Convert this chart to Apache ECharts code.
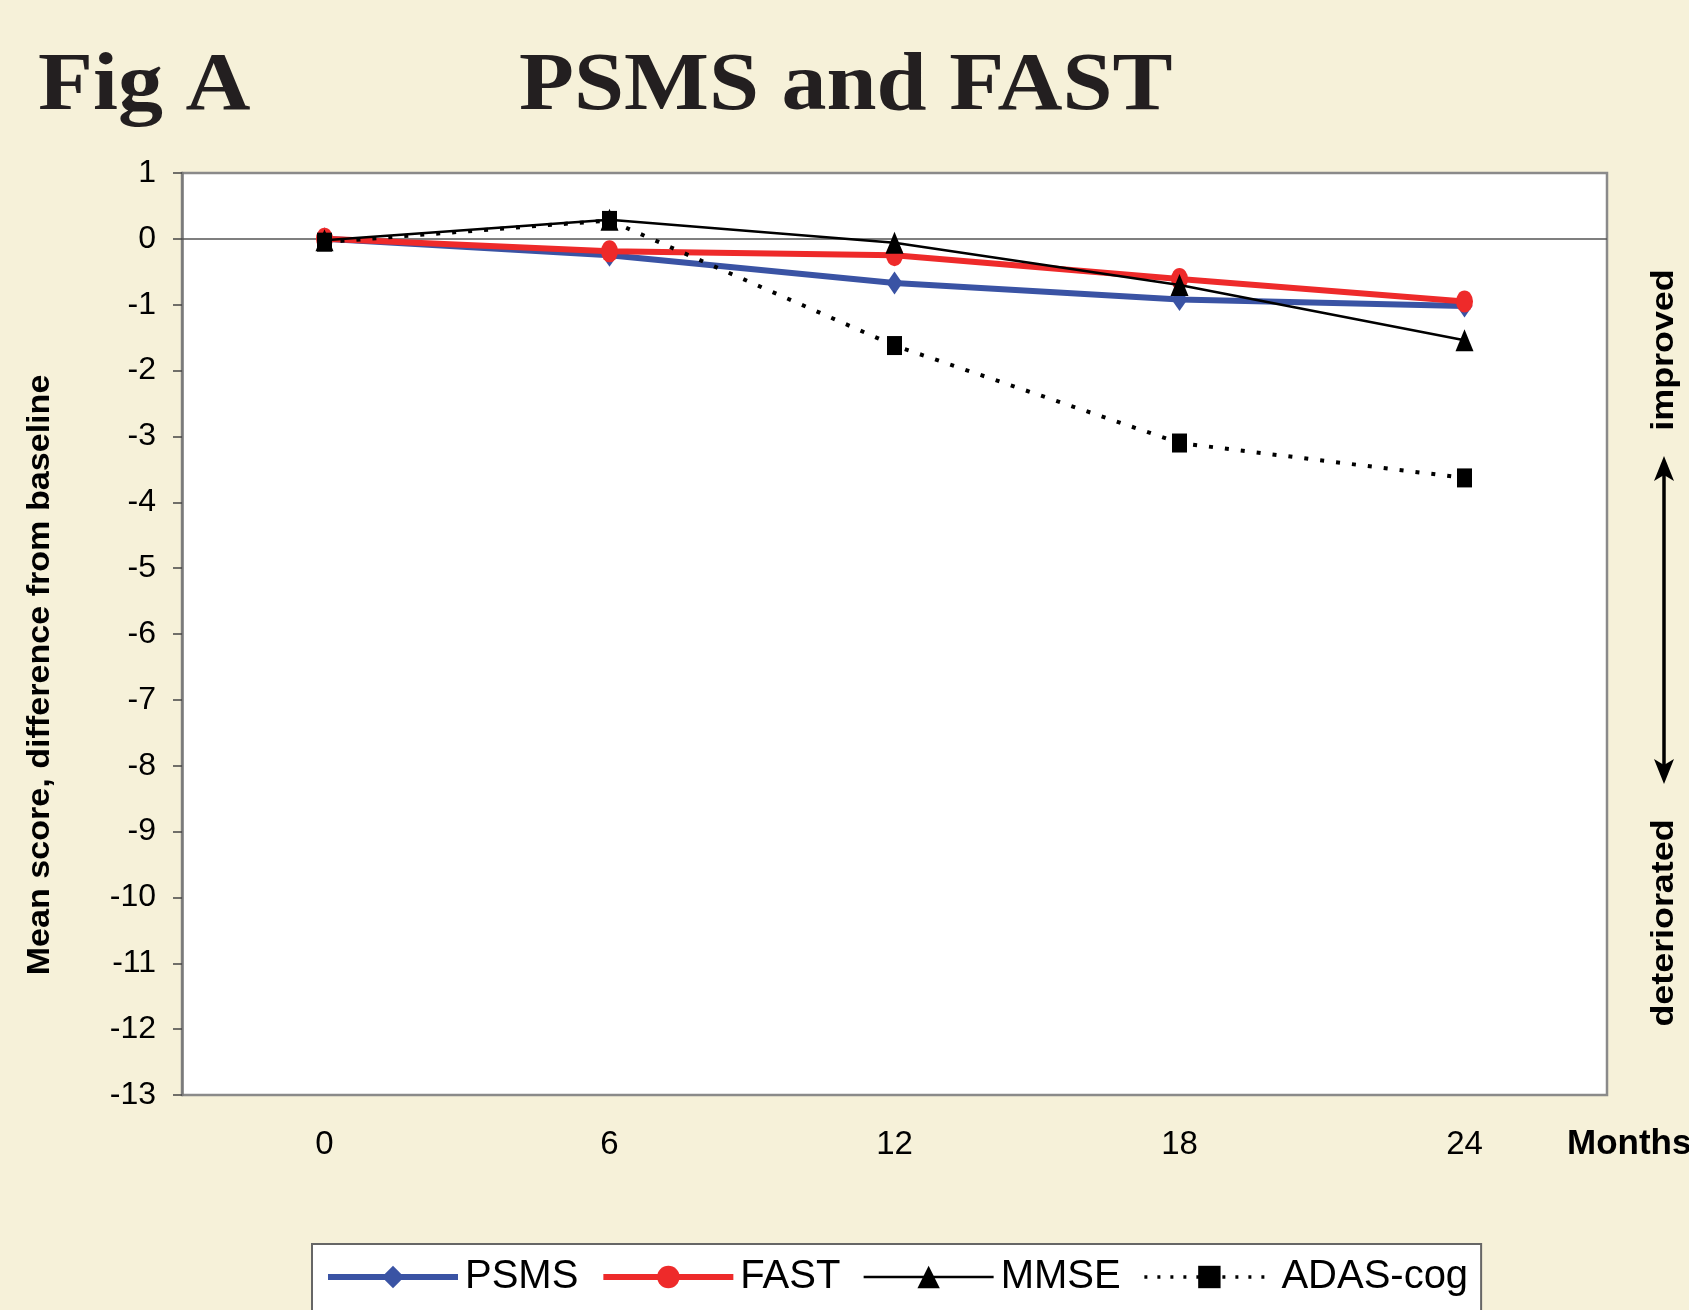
<!DOCTYPE html>
<html>
<head>
<meta charset="utf-8">
<script src="https://cdn.jsdelivr.net/npm/echarts@6/dist/echarts.min.js"></script>
<style>
html,body{margin:0;padding:0;background:#F6F1D9;}
#chart{width:1689px;height:1310px;}
</style>
</head>
<body>
<div id="chart"></div>
<script>
// ---- data ----
const months = ['0', '6', '12', '18', '24'];
const psms = [0, -0.25, -0.67, -0.92, -1.02];
const fast = [0, -0.19, -0.25, -0.61, -0.95];
const mmse = [-0.02, 0.29, -0.06, -0.70, -1.54];
const adas = [-0.05, 0.28, -1.62, -3.10, -3.63];
const seriesNames = ['PSMS', 'FAST', 'MMSE', 'ADAS-cog'];
const yMin = -13, yMax = 1, yStep = 1;

const sans = "'Liberation Sans', Arial, Helvetica, sans-serif";
const serif = "'Liberation Serif', 'Times New Roman', serif";

const blue = '#3A53A4', red = '#EE2A2A';

const chart = echarts.init(document.getElementById('chart'));
chart.setOption({
  backgroundColor: '#F6F1D9',
  animation: false,
  grid: {
    left: 182, right: 82, top: 173, bottom: 215,
    show: true, backgroundColor: '#ffffff',
    borderColor: '#8a8a8a', borderWidth: 2.5
  },
  legend: {
    data: [
      { name: seriesNames[0], lineStyle: { width: 6, color: blue } },
      { name: seriesNames[1], lineStyle: { width: 6, color: red } },
      { name: seriesNames[2], lineStyle: { width: 2.5, color: '#000' } },
      { name: seriesNames[3], lineStyle: { width: 3.5, color: '#000', type: [3, 10] } }
    ],
    left: 312, top: 1244,
    padding: [13, 13, 40, 13],
    itemWidth: 130, itemHeight: 28, itemGap: 22,
    backgroundColor: '#ffffff',
    borderColor: '#666', borderWidth: 2,
    textStyle: { fontFamily: sans, fontSize: 40, color: '#000', padding: [0, 0, 0, 2] }
  },
  xAxis: {
    type: 'category',
    data: months,
    boundaryGap: true,
    axisLine: { show: false },
    axisTick: { show: false },
    axisLabel: { margin: 33, fontFamily: sans, fontSize: 33, color: '#000' },
    splitLine: { show: false }
  },
  yAxis: {
    type: 'value',
    min: yMin, max: yMax, interval: yStep,
    axisLine: { show: true, lineStyle: { color: '#7a7a7a', width: 2.5 } },
    axisTick: { show: true, inside: false, length: 9, lineStyle: { color: '#444', width: 1.5 } },
    axisLabel: { margin: 26, fontFamily: sans, fontSize: 32, color: '#000' },
    splitLine: { show: false }
  },
  series: [
    {
      name: seriesNames[0], type: 'line', data: psms,
      symbol: 'diamond', symbolSize: [16, 23],
      lineStyle: { color: blue, width: 6 },
      itemStyle: { color: blue },
      z: 2,
      markLine: {
        silent: true, symbol: 'none', label: { show: false },
        lineStyle: { color: '#555', width: 1.5, type: 'solid' },
        data: [{ yAxis: 0 }],
        z: 1
      }
    },
    {
      name: seriesNames[1], type: 'line', data: fast,
      symbol: 'circle', symbolSize: [17, 22],
      lineStyle: { color: red, width: 6 },
      itemStyle: { color: red },
      z: 3
    },
    {
      name: seriesNames[2], type: 'line', data: mmse,
      symbol: 'triangle', symbolSize: [18, 22],
      lineStyle: { color: '#000', width: 2.5 },
      itemStyle: { color: '#000' },
      z: 4
    },
    {
      name: seriesNames[3], type: 'line', data: adas,
      symbol: 'rect', symbolSize: [15, 19],
      lineStyle: { color: '#000', width: 4, type: [4, 12] },
      itemStyle: { color: '#000' },
      z: 5
    }
  ],
  graphic: [
    { type: 'text', left: 38, top: 46, scaleY: 0.92, style: { text: 'Fig A', font: 'bold 90px ' + serif, fill: '#231F20' } },
    { type: 'text', left: 519, top: 46, scaleY: 0.92, style: { text: 'PSMS and FAST', font: 'bold 90px ' + serif, fill: '#231F20' } },
    { type: 'text', x: 40, y: 675, rotation: Math.PI / 2, scaleX: 1.1,
      style: { text: 'Mean score, difference from baseline', font: 'bold 31px ' + sans, fill: '#000', align: 'center', verticalAlign: 'middle' } },
    { type: 'text', x: 1567, y: 1144,
      style: { text: 'Months', font: 'bold 35px ' + sans, fill: '#000', align: 'left', verticalAlign: 'middle' } },
    { type: 'text', x: 1664, y: 350, rotation: Math.PI / 2, scaleX: 1.12,
      style: { text: 'improved', font: 'bold 32px ' + sans, fill: '#000', align: 'center', verticalAlign: 'middle' } },
    { type: 'text', x: 1664, y: 923, rotation: Math.PI / 2, scaleX: 1.12,
      style: { text: 'deteriorated', font: 'bold 32px ' + sans, fill: '#000', align: 'center', verticalAlign: 'middle' } },
    { type: 'line', shape: { x1: 1664, y1: 470, x2: 1664, y2: 770 }, style: { stroke: '#000', lineWidth: 3.5 } },
    { type: 'polygon', shape: { points: [[1664, 456], [1654, 481], [1664, 475], [1674, 481]] }, style: { fill: '#000' } },
    { type: 'polygon', shape: { points: [[1664, 784], [1654, 759], [1664, 765], [1674, 759]] }, style: { fill: '#000' } }
  ]
});
</script>
</body>
</html>
